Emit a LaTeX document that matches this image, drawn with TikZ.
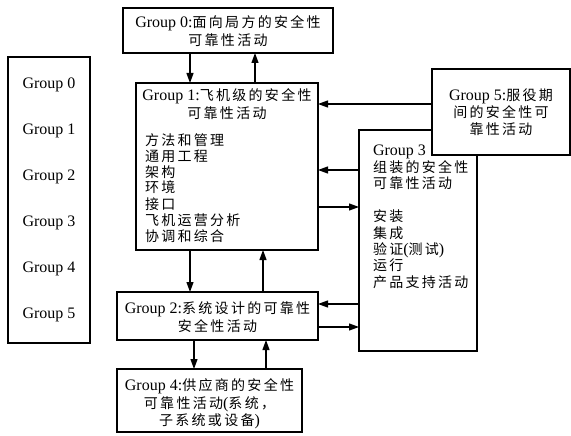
\documentclass[tikz,border=0pt]{standalone}
\usepackage{fontspec}
\setmainfont{Liberation Serif}
\newfontfamily\cjk[Scale=0.875]{Noto Sans CJK SC}
\newcommand\zw[1]{{\cjk\zwa#1\relax}}
\def\zwa#1{#1\zwb}
\def\zwb#1{\ifx#1\relax\else\kern2.3pt#1\expandafter\zwb\fi}
\usetikzlibrary{arrows.meta}
% width, height, top shift, content
\newcommand\boxtxt[4]{\parbox[c][#2][t]{#1}{\fontsize{16}{18}\selectfont\lineskiplimit=-100pt\relax\parskip=0pt\parindent=0pt\mbox{}\par\vspace{#3}#4}}
\tikzset{
  box/.style={draw, line width=1.3pt, inner sep=0pt, outer sep=0pt, anchor=north west, fill=white},
  arr/.style={line width=1.2pt, -{Triangle[length=10pt,width=7pt]}},
}
\begin{document}
\begin{tikzpicture}[x=1pt,y=-1pt]
\useasboundingbox (0,0) rectangle (571,436);

\node[box] (g0) at (123,8) {\boxtxt{210pt}{45pt}{2.5pt}{{\centering\baselineskip=17.5pt
  Group 0:\zw{面向局方的安全性}\\\zw{可靠性活动}\par}}};

\node[box] (g1) at (136,83) {\boxtxt{182pt}{167pt}{-0.5pt}{{\centering\baselineskip=18pt
  Group 1:\zw{飞机级的安全性}\\\zw{可靠性活动}\par}
  \vspace{10.5pt}
  {\raggedright\leftskip=9pt\baselineskip=16pt
  \zw{方法和管理}\\\zw{通用工程}\\\zw{架构}\\\zw{环境}\\\zw{接口}\\\zw{飞机运营分析}\\\zw{协调和综合}\par}}};

\node[box] (g2) at (117,292) {\boxtxt{201pt}{48pt}{3pt}{{\centering\baselineskip=18pt
  Group 2:\zw{系统设计的可靠性}\\\zw{安全性活动}\par}}};

\node[box] (g3) at (359,130) {\boxtxt{118pt}{221pt}{9pt}{{\raggedright\leftskip=14pt\baselineskip=16.5pt
  Group 3\\\zw{组装的安全性}\\\zw{可靠性活动}\\\mbox{}\\\zw{安装}\\\zw{集成}\\\zw{验证}(\zw{测试})\\\zw{运行}\\\zw{产品支持活动}\par}}};

\node[box] (g4) at (117,369) {\boxtxt{185pt}{63pt}{4pt}{{\centering\baselineskip=17.5pt
  Group 4:\zw{供应商的安全性}\\\zw{可靠性活动}(\zw{系统，}\\\zw{子系统或设备})\par}}};

\node[box] (g5) at (432,69) {\boxtxt{138pt}{86pt}{14.5pt}{{\centering\baselineskip=17pt
  Group 5:\zw{服役期}\\\zw{间的安全性可}\\\zw{靠性活动}\par}}};

\node[box] (gl) at (8,57) {\boxtxt{82pt}{286pt}{-14.5pt}{{\centering\baselineskip=46pt
  Group 0\\Group 1\\Group 2\\Group 3\\Group 4\\Group 5\par}}};

\draw[arr] (g0.south -| 190,0) -- (g1.north -| 190,0);
\draw[arr] (g1.north -| 255,0) -- (g0.south -| 255,0);
\draw[arr] (g1.south -| 190,0) -- (g2.north -| 190,0);
\draw[arr] (g2.north -| 263,0) -- (g1.south -| 263,0);
\draw[arr] (g2.south -| 194,0) -- (g4.north -| 194,0);
\draw[arr] (g4.north -| 266,0) -- (g2.south -| 266,0);

\draw[arr] (g5.west |- 0,104) -- (g1.east |- 0,104);
\draw[arr] (g3.west |- 0,170) -- (g1.east |- 0,170);
\draw[arr] (g1.east |- 0,207) -- (g3.west |- 0,207);
\draw[arr] (g3.west |- 0,304) -- (g2.east |- 0,304);
\draw[arr] (g2.east |- 0,327) -- (g3.west |- 0,327);
\end{tikzpicture}
\end{document}
